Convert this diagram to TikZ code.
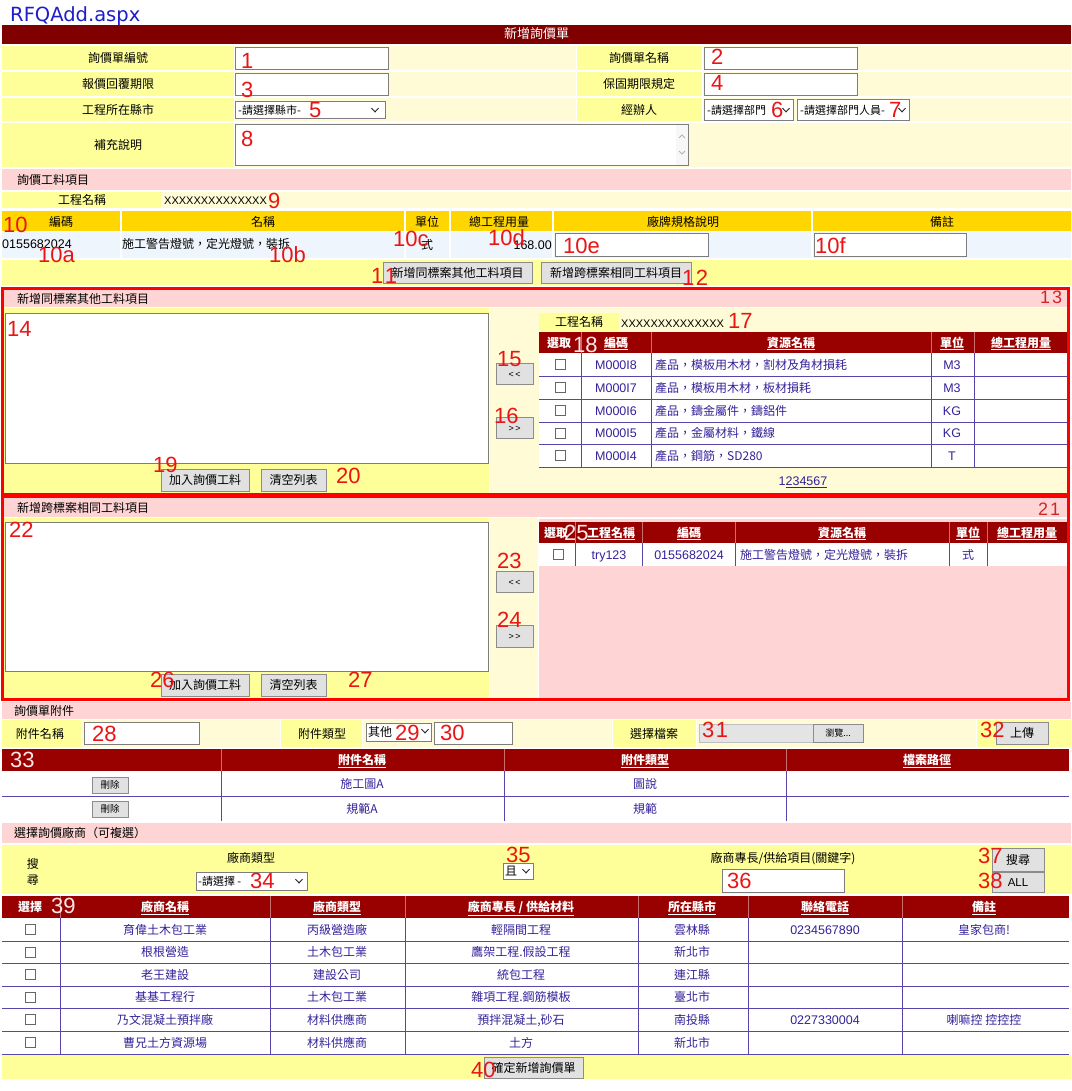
\documentclass[tikz,border=0pt]{standalone}
\usepackage{fontspec}
\setmainfont{Liberation Sans}
\newfontfamily\cjk{Noto Sans CJK TC}
\newfontfamily\djv{DejaVu Sans}
\definecolor{hdrred}{RGB}{128,0,0}
\definecolor{tblred}{RGB}{153,0,0}
\definecolor{labc}{RGB}{255,255,153}
\definecolor{valc}{RGB}{255,251,214}
\definecolor{pinkc}{RGB}{255,212,212}
\definecolor{goldc}{RGB}{255,214,0}
\definecolor{rowblue}{RGB}{238,245,252}
\definecolor{dtext}{RGB}{51,34,153}
\definecolor{numred}{RGB}{235,20,20}
\definecolor{numdark}{RGB}{205,40,40}
\definecolor{numcream}{RGB}{255,232,232}
\definecolor{gridc}{RGB}{90,70,170}
\definecolor{sepc}{RGB}{200,110,110}
\definecolor{btnfill}{RGB}{225,225,225}
\definecolor{btnline}{RGB}{140,140,140}
\definecolor{inpline}{RGB}{125,125,125}
\definecolor{titleblue}{RGB}{30,30,200}
\definecolor{filegrey}{RGB}{228,228,228}
\newcommand\mkbox[7][]{%
  \pgfmathsetmacro\mbcx{(#3+#5)/2}%
  \pgfmathsetmacro\mbcy{(#4+#6)/2}%
  \pgfmathsetmacro\mbw{#5-#3}%
  \pgfmathsetmacro\mbh{#6-#4}%
  \node[inner sep=0pt, outer sep=0pt, minimum width=\mbw pt, minimum height=\mbh pt, #1] (#2) at (\mbcx,\mbcy) {#7};}
\newcommand\chev[2]{\draw[line width=1pt, black!85] (#1-3.5,#2-1.8) -- (#1,#2+1.8) -- (#1+3.5,#2-1.8);}
\tikzset{
  lbl/.style={font=\cjk\fontsize{12}{14}\selectfont, inner sep=0pt, text=black, text height=10pt, text depth=1pt},
  sml/.style={lbl, font=\cjk\fontsize{11}{12}\selectfont},
  dat/.style={lbl, text=dtext},
  lat/.style={font=\fontsize{12.5}{14}\selectfont, inner sep=0pt, text=dtext, text height=10pt, text depth=1pt},
  xx/.style={lat, text=black, anchor=west, font=\fontsize{11}{12}\selectfont},
  hd/.style={font=\cjk\bfseries\fontsize{12}{14}\selectfont, inner sep=0pt, text=white, text height=10pt, text depth=1pt},
  num/.style={font=\fontsize{22}{22}\selectfont, text=numred, inner sep=0pt, anchor=base west},
  numc/.style={num, text=numcream},
  numd/.style={num, text=numdark, font=\fontsize{18}{18}\selectfont},
  inp/.style={draw=inpline, fill=white, line width=0.8pt},
  sel/.style={draw=inpline, fill=white, line width=0.8pt},
  btn/.style={draw=btnline, fill=btnfill, line width=0.8pt, font=\cjk\fontsize{12}{14}\selectfont, text height=10pt, text depth=1pt},
  sbtn/.style={btn, font=\fontsize{9}{10}\selectfont, text height=7pt, text depth=0pt},
  chk/.style={draw=black!60, fill=white, line width=0.7pt, minimum size=10pt, inner sep=0pt},
  sep/.style={sepc, line width=0.6pt},
  grid/.style={gridc, line width=0.8pt},
}
\begin{document}
\begin{tikzpicture}[x=1pt,y=-1pt]
\useasboundingbox (0,0) rectangle (1071,1091);
\fill[white] (0,0) rectangle (1071,1091);
% title
\node[font=\djv\fontsize{19.5}{20}\selectfont, text=titleblue, inner sep=0pt, anchor=base west] (title) at (10,22) {RFQAdd.aspx};
\fill[hdrred] (2,25) rectangle (1071,44);
\node[hd, font=\cjk\fontsize{13}{14}\selectfont] (thead) at (536.5,34.5) {新增詢價單};
% form rows
\foreach \ya/\yb in {46/70.5,72/96.5,98/121.5}{
  \fill[labc] (2,\ya) rectangle (234,\yb);
  \fill[valc] (235,\ya) rectangle (576,\yb);
  \fill[labc] (577,\ya) rectangle (702,\yb);
  \fill[valc] (703,\ya) rectangle (1071,\yb);
}
\fill[labc] (2,123) rectangle (234,167);
\fill[valc] (235,123) rectangle (1071,167);
\node[lbl] (l1) at (118,58.5) {詢價單編號};
\node[lbl] (l2) at (639,58.5) {詢價單名稱};
\node[lbl] (l3) at (118,84.5) {報價回覆期限};
\node[lbl] (l4) at (639,84.5) {保固期限規定};
\node[lbl] (l5) at (118,110) {工程所在縣市};
\node[lbl] (l6) at (639,110) {經辦人};
\node[lbl] (l7) at (118,145) {補充說明};
\mkbox[inp]{i1}{235.5}{47}{388}{69}{}
\mkbox[inp]{i3}{235.5}{73.5}{388}{95.5}{}
\mkbox[inp]{i2}{704}{47}{857}{69}{}
\mkbox[inp]{i4}{704}{73.5}{857}{95.5}{}
\mkbox[sel]{s5}{235.5}{101.5}{385}{118.5}{}
\node[sml, anchor=west] (s5t) at (238,110) {-請選擇縣市-};
\chev{375}{110}
\mkbox[sel]{s6}{704}{99.5}{793}{120.5}{}
\node[sml, anchor=west] (s6t) at (707,110) {-請選擇部門};
\chev{786}{110}
\mkbox[sel]{s7}{797}{99.5}{909}{120.5}{}
\node[sml, anchor=west] (s7t) at (800,110) {-請選擇部門人員-};
\chev{902}{110}
\mkbox[inp]{ta}{235.5}{124.5}{688}{165.5}{}
\fill[black!3] (676,125.5) rectangle (687.5,165);
\draw[black!30, line width=0.8pt] (679,138) -- (682,135) -- (685,138);
\draw[black!30, line width=0.8pt] (679,151) -- (682,154) -- (685,151);
% section: items
\fill[pinkc] (2,169) rectangle (1071,190);
\node[lbl, anchor=west] (sec1) at (17,180) {詢價工料項目};
\fill[labc] (2,192) rectangle (161,208.5);
\fill[valc] (162,192) rectangle (1071,208.5);
\node[lbl] (pn1) at (82,200) {工程名稱};
\node[xx] (px1) at (164,200.5) {XXXXXXXXXXXXXX};
\foreach \xa/\xb in {2/120,121.5/404,406/449,450.5/552,554/811,813/1071}{
  \fill[goldc] (\xa,211) rectangle (\xb,231);
  \fill[rowblue] (\xa,232.5) rectangle (\xb,258);
}
\node[lbl] (g1) at (61,221.5) {編碼};
\node[lbl] (g2) at (263,221.5) {名稱};
\node[lbl] (g3) at (427,221.5) {單位};
\node[lbl] (g4) at (499,221.5) {總工程用量};
\node[lbl] (g5) at (683,221.5) {廠牌規格說明};
\node[lbl] (g6) at (942,221.5) {備註};
\node[lat, text=black, anchor=west] (d1) at (2,244) {0155682024};
\node[lbl, anchor=west] (d2) at (122,244) {施工警告燈號，定光燈號，裝拆};
\node[lbl] (d3) at (427,245.5) {式};
\node[lat, text=black, anchor=east] (d4) at (552,245.5) {168.00};
\mkbox[inp]{i10e}{555}{233.5}{708}{256}{}
\mkbox[inp]{i10f}{814}{233.5}{966}{256}{}
\fill[labc] (2,259.5) rectangle (1071,285);
\mkbox[btn]{b11}{383}{262}{532}{283}{新增同標案其他工料項目}
\mkbox[btn]{b12}{541}{262}{691}{283}{新增跨標案相同工料項目}
% box 13
\fill[pinkc] (2,288) rectangle (1069,307);
\node[lbl, anchor=west] (sec2) at (17,298.5) {新增同標案其他工料項目};
\fill[labc] (2,308) rectangle (489,494);
\fill[valc] (490,308) rectangle (1069,494);
\mkbox[inp]{lb14}{5.5}{313.5}{488}{463}{}
\mkbox[sbtn]{b15}{496}{363}{533}{384}{<\,<}
\mkbox[sbtn]{b16}{496}{417}{533}{438}{>\,>}
\mkbox[btn]{b19}{161}{469}{249}{491}{加入詢價工料}
\mkbox[btn]{b20}{261}{469}{326}{491}{清空列表}
\fill[labc] (539,313) rectangle (619,331);
\node[lbl] (pn2) at (579,322) {工程名稱};
\node[xx] (px2) at (621,322.5) {XXXXXXXXXXXXXX};
\fill[tblred] (539,332) rectangle (1067,353);
\foreach \x in {581,651,931,974} \draw[sep] (\x,332) -- (\x,353);
\node[hd] (h1) at (559,342.5) {選取};
\node[hd] (h2) at (616,342.5) {\underline{編碼}};
\node[hd] (h3) at (791,342.5) {\underline{資源名稱}};
\node[hd] (h4) at (952,342.5) {\underline{單位}};
\node[hd] (h5) at (1021,342.5) {\underline{總工程用量}};
\fill[white] (539,353) rectangle (1067,467);
\foreach \y in {376,399,422,444.5,467} \draw[grid] (539,\y) -- (1067,\y);
\foreach \x in {581,651,931,974} \draw[grid] (\x,353) -- (\x,467);
\foreach \ii/\yy/\cd/\nm/\un in {1/364.5/M000I8/產品，模板用木材，割材及角材損耗/M3,2/387.5/M000I7/產品，模板用木材，板材損耗/M3,3/410.5/M000I6/產品，鑄金屬件，鑄鋁件/KG,4/433.25/M000I5/產品，金屬材料，鐵線/KG,5/455.75/M000I4/產品，鋼筋，SD280/T}{
  \node[chk] (ca\ii) at (560,\yy) {};
  \node[lat] (cc\ii) at (616,\yy) {\cd};
  \node[dat, anchor=west] (cn\ii) at (655,\yy) {\nm};
  \node[lat] (cu\ii) at (952,\yy) {\un};
}
\node[lat] (pg) at (803,481) {1\underline{234567}};
\draw[red, line width=3pt] (2.5,288.5) rectangle (1068.5,494.5);
% box 21
\fill[pinkc] (2,497) rectangle (1069,517);
\node[lbl, anchor=west] (sec3) at (17,507.5) {新增跨標案相同工料項目};
\fill[labc] (2,518) rectangle (489,698);
\fill[valc] (490,518) rectangle (538,698);
\fill[pinkc] (539,519) rectangle (1067,698);
\mkbox[inp]{lb22}{5.5}{522}{488}{671}{}
\mkbox[sbtn]{b23}{496}{571}{533}{592}{<\,<}
\mkbox[sbtn]{b24}{496}{625}{533}{647}{>\,>}
\mkbox[btn]{b26}{161}{674}{249}{696}{加入詢價工料}
\mkbox[btn]{b27}{261}{674}{326}{696}{清空列表}
\fill[tblred] (539,522) rectangle (1067,543);
\foreach \x in {575,642,735,949,987} \draw[sep] (\x,522) -- (\x,543);
\node[hd] (k1) at (556,532.5) {選取};
\node[hd] (k2) at (611,532.5) {\underline{工程名稱}};
\node[hd] (k3) at (689,532.5) {\underline{編碼}};
\node[hd] (k4) at (842,532.5) {\underline{資源名稱}};
\node[hd] (k5) at (968,532.5) {\underline{單位}};
\node[hd] (k6) at (1027,532.5) {\underline{總工程用量}};
\fill[white] (539,543) rectangle (1067,566);
\foreach \x in {575,642,735,949,987} \draw[grid] (\x,543) -- (\x,566);
\node[chk] (cb25) at (558,554.5) {};
\node[lat] (e1) at (609,554.5) {try123};
\node[lat] (e2) at (689,554.5) {0155682024};
\node[dat, anchor=west] (e3) at (740,554.5) {施工警告燈號，定光燈號，裝拆};
\node[dat] (e4) at (968,554.5) {式};
\draw[red, line width=3pt] (2.5,496.5) rectangle (1068.5,699);
% attachments
\fill[pinkc] (2,702) rectangle (1071,719);
\node[lbl, anchor=west] (sec4) at (14,710.5) {詢價單附件};
\fill[labc] (2,720) rectangle (81,747);
\fill[valc] (82,720) rectangle (280,747);
\fill[labc] (281,720) rectangle (362,747);
\fill[valc] (363,720) rectangle (612,747);
\fill[labc] (613,720) rectangle (696,747);
\fill[valc] (697,720) rectangle (976,747);
\fill[labc] (977,720) rectangle (1071,747);
\node[lbl] (m1) at (40,734) {附件名稱};
\node[lbl] (m2) at (322,734) {附件類型};
\node[lbl] (m3) at (654,734) {選擇檔案};
\mkbox[inp]{i28}{84}{722}{199}{744}{}
\mkbox[sel]{s29}{366}{723}{431}{741}{}
\node[lbl, anchor=west] (s29t) at (368,732) {其他};
\chev{425}{731}
\mkbox[inp]{i30}{434}{722}{512}{744}{}
\mkbox[draw=black!25, fill=filegrey]{f31}{699}{724}{813}{742}{}
\mkbox[btn, font=\cjk\fontsize{9}{10}\selectfont, text height=8pt]{b31}{813}{724}{863}{742}{瀏覽...}
\mkbox[btn]{b32}{996}{722}{1048}{744}{上傳}
\fill[tblred] (2,749) rectangle (1069,771);
\foreach \x in {221,504,786} \draw[sep] (\x,749) -- (\x,771);
\node[hd] (t1) at (362,760) {\underline{附件名稱}};
\node[hd] (t2) at (645,760) {\underline{附件類型}};
\node[hd] (t3) at (927,760) {\underline{檔案路徑}};
\fill[white] (2,771) rectangle (1069,821);
\draw[grid] (2,796) -- (1069,796);
\foreach \x in {221,504,786} \draw[grid] (\x,771) -- (\x,821);
\mkbox[btn, font=\cjk\fontsize{9.5}{10}\selectfont, text height=8pt]{del1}{92}{777}{128}{793}{刪除}
\mkbox[btn, font=\cjk\fontsize{9.5}{10}\selectfont, text height=8pt]{del2}{92}{801}{128}{817}{刪除}
\node[dat] (a1) at (362,784) {施工圖A};
\node[dat] (a2) at (645,784) {圖說};
\node[dat] (a3) at (362,808.5) {規範A};
\node[dat] (a4) at (645,808.5) {規範};
% vendors
\fill[pinkc] (2,823) rectangle (1071,843);
\node[lbl, anchor=west] (sec5) at (14,833) {選擇詢價廠商（可複選）};
\fill[labc] (2,845) rectangle (1071,894);
\node[lbl] (v1) at (33,864) {搜};
\node[lbl] (v2) at (33,880) {尋};
\node[lbl] (v3) at (251,858) {廠商類型};
\mkbox[sel]{s34}{196}{872}{307}{890}{}
\node[sml, anchor=west] (s34t) at (198,881) {-請選擇 -};
\chev{299}{881}
\mkbox[sel]{s35}{503}{863}{533}{879}{}
\node[lbl, anchor=west] (s35t) at (505,871) {且};
\chev{526}{871}
\node[lbl] (v4) at (783,858) {廠商專長/供給項目(關鍵字)};
\mkbox[inp]{i36}{722}{869.5}{844}{892}{}
\mkbox[btn]{b37}{992}{848}{1044}{871}{搜尋}
\mkbox[btn, font=\fontsize{11.5}{12}\selectfont]{b38}{992}{872}{1044}{892}{ALL}
\fill[tblred] (2,896) rectangle (1069,918);
\foreach \x in {60,270,405,638,748,902} \draw[sep] (\x,896) -- (\x,918);
\node[hd] (w1) at (30,907) {選擇};
\node[hd] (w2) at (165,907) {\underline{廠商名稱}};
\node[hd] (w3) at (337,907) {\underline{廠商類型}};
\node[hd] (w4) at (521,907) {\underline{廠商專長 / 供給材料}};
\node[hd] (w5) at (692,907) {\underline{所在縣市}};
\node[hd] (w6) at (825,907) {\underline{聯絡電話}};
\node[hd] (w7) at (984,907) {\underline{備註}};
\fill[white] (2,918) rectangle (1069,1054);
\foreach \y in {941,963.5,986,1008.5,1031,1054} \draw[grid] (2,\y) -- (1069,\y);
\foreach \x in {60,270,405,638,748,902} \draw[grid] (\x,918) -- (\x,1054);
\foreach \ii/\yy/\va/\vb/\vc/\vd/\ve/\vf in {1/929.5/育偉土木包工業/丙級營造廠/輕隔間工程/雲林縣/0234567890/皇家包商!,2/952/根根營造/土木包工業/鷹架工程.假設工程/新北市/{}/{},3/974.75/老王建設/建設公司/統包工程/連江縣/{}/{},4/997.25/基基工程行/土木包工業/雜項工程.鋼筋模板/臺北市/{}/{},5/1019.75/乃文混凝土預拌廠/材料供應商/{預拌混凝土,砂石}/南投縣/0227330004/喇嘛控 控控控,6/1042.5/曹兄土方資源場/材料供應商/土方/新北市/{}/{}}{
  \node[chk] (vc\ii) at (30,\yy) {};
  \node[dat] (va\ii) at (165,\yy) {\va};
  \node[dat] (vb\ii) at (337,\yy) {\vb};
  \node[dat] (vx\ii) at (521,\yy) {\vc};
  \node[dat] (vd\ii) at (692,\yy) {\vd};
  \node[lat] (ve\ii) at (825,\yy) {\ve};
  \node[dat] (vf\ii) at (984,\yy) {\vf};
}
\fill[labc] (2,1055) rectangle (1071,1079);
\mkbox[btn]{b40}{484}{1057}{583}{1078}{確定新增詢價單}
% red numbers
\node[num] (n1) at (241,69) {1};
\node[num] (n2) at (711,65) {2};
\node[num] (n3) at (241,98) {3};
\node[num] (n4) at (711,91) {4};
\node[num] (n5) at (309,118) {5};
\node[num] (n6) at (771,117.5) {6};
\node[num] (n7) at (889,117.5) {7};
\node[num] (n8) at (241,147) {8};
\node[num] (n9) at (268,209) {9};
\node[num] (n10) at (3,233) {10};
\node[num] (n10a) at (38,262) {10a};
\node[num] (n10b) at (269,262) {10b};
\node[num] (n10c) at (393,247) {10c};
\node[num] (n10d) at (488,245) {10d};
\node[num] (n10e) at (563,253) {10e};
\node[num] (n10f) at (815,253) {10f};
\node[num] (n11) at (371,283) {1\kern1.5pt 1};
\node[num] (n12) at (682,285) {1\kern1.5pt 2};
\node[numd] (n13) at (1040,303) {1\kern2pt 3};
\node[num] (n14) at (7,336) {14};
\node[num] (n15) at (497,366) {15};
\node[num] (n16) at (494,423) {16};
\node[num] (n17) at (728,328) {17};
\node[numc] (n18) at (573,352) {18};
\node[num] (n19) at (153,472) {19};
\node[num] (n20) at (336,483) {20};
\node[numd] (n21) at (1038,515) {2\kern2pt 1};
\node[num] (n22) at (9,537) {22};
\node[num] (n23) at (497,568) {23};
\node[num] (n24) at (497,627) {24};
\node[numc] (n25) at (564,540) {25};
\node[num] (n26) at (150,687) {26};
\node[num] (n27) at (348,687) {27};
\node[num] (n28) at (92,741) {28};
\node[num] (n29) at (395,740) {29};
\node[num] (n30) at (440,740) {30};
\node[num] (n31) at (702,737) {3\kern1.5pt 1};
\node[num] (n32) at (980,737) {32};
\node[numc] (n33) at (10,767) {33};
\node[num] (n34) at (250,888) {34};
\node[num] (n35) at (506,862) {35};
\node[num] (n36) at (727,888) {36};
\node[num] (n37) at (978,863) {37};
\node[num] (n38) at (978,888) {38};
\node[numc] (n39) at (51,913) {39};
\node[num] (n40) at (471,1077) {40};
\end{tikzpicture}
\end{document}
